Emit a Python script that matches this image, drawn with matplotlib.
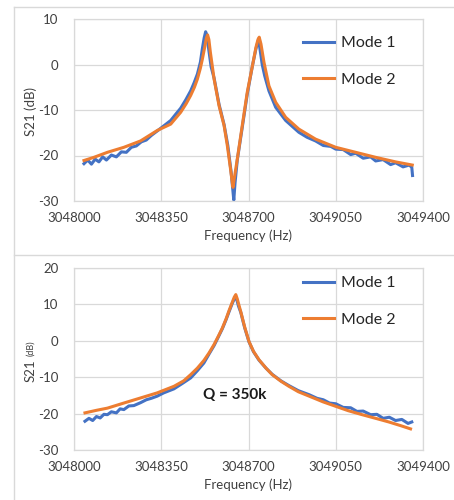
import matplotlib
matplotlib.use("Agg")
import matplotlib.pyplot as plt
from matplotlib.lines import Line2D

plt.rcParams['font.family'] = ['Lato', 'DejaVu Sans']
plt.rcParams['axes.unicode_minus'] = False

# ====== Data ======
# top panel (two split modes)
top_f1 = [3048040, 3048055, 3048070, 3048085, 3048100, 3048115, 3048130, 3048150, 3048170, 3048190,
          3048210, 3048230, 3048250, 3048270, 3048290, 3048310, 3048334, 3048360, 3048388, 3048410,
          3048428, 3048448, 3048468, 3048482, 3048495, 3048507, 3048515, 3048522, 3048528, 3048533,
          3048540, 3048550, 3048562, 3048582, 3048602, 3048617, 3048630, 3048637, 3048641, 3048646,
          3048655, 3048675, 3048695, 3048715, 3048730, 3048739, 3048745, 3048755, 3048765, 3048782,
          3048809, 3048849, 3048902, 3048935, 3048969, 3049000, 3049030, 3049050, 3049080, 3049110,
          3049130, 3049160, 3049190, 3049210, 3049240, 3049270, 3049290, 3049320, 3049345, 3049355,
          3049358]
top_s1 = [-21.8, -21.0, -21.9, -20.8, -21.4, -20.3, -21.0, -19.9, -20.3, -19.2,
          -19.3, -18.2, -17.9, -17.0, -16.6, -15.6, -14.6, -13.5, -12.3, -10.8,
          -9.6, -7.8, -5.8, -4.0, -2.1, 0.5, 3.5, 5.8, 7.2, 6.5,
          3.5, -0.5, -3.0, -8.8, -13.2, -17.8, -23.5, -27.5, -29.8, -26.0,
          -21.0, -13.8, -6.5, -0.5, 3.5, 5.2, 3.8, 0.0, -2.5, -5.8,
          -9.4, -12.3, -14.9, -16.0, -16.8, -17.8, -18.0, -18.6, -18.7, -19.8,
          -19.5, -20.6, -20.3, -21.2, -20.9, -22.0, -21.6, -22.5, -22.1, -22.6,
          -24.4]
top_f2 = [3048040, 3048080, 3048134, 3048200, 3048267, 3048334, 3048388, 3048428, 3048450, 3048468,
          3048483, 3048495, 3048507, 3048515, 3048525, 3048531, 3048536, 3048541, 3048547, 3048562,
          3048582, 3048602, 3048615, 3048628, 3048635, 3048638, 3048643, 3048655, 3048675, 3048695,
          3048715, 3048730, 3048738, 3048743, 3048750, 3048762, 3048782, 3048809, 3048849, 3048902,
          3048969, 3049050, 3049130, 3049210, 3049290, 3049357]
top_s2 = [-21.1, -20.4, -19.3, -18.2, -16.8, -14.5, -13.1, -10.5, -8.6, -6.8,
          -5.0, -3.2, -0.8, 1.2, 4.0, 5.8, 6.5, 5.5, 2.7, -3.2,
          -9.1, -13.4, -17.8, -23.0, -26.0, -27.0, -25.0, -20.8, -13.4, -6.1,
          -0.5, 3.8, 5.5, 6.0, 4.5, 0.5, -4.7, -8.3, -11.6, -14.2,
          -16.4, -18.2, -19.3, -20.4, -21.4, -22.1]

# bottom panel (single mode, Q = 350k)
bot_f1 = [3048044, 3048060, 3048075, 3048090, 3048105, 3048120, 3048134, 3048150, 3048170, 3048185,
          3048200, 3048220, 3048240, 3048267, 3048290, 3048310, 3048334, 3048360, 3048401, 3048435,
          3048468, 3048495, 3048521, 3048542, 3048562, 3048580, 3048595, 3048610, 3048622, 3048635,
          3048643, 3048648, 3048653, 3048660, 3048669, 3048685, 3048702, 3048720, 3048742, 3048770,
          3048795, 3048830, 3048862, 3048900, 3048943, 3048975, 3049000, 3049025, 3049050, 3049080,
          3049110, 3049135, 3049160, 3049190, 3049215, 3049240, 3049265, 3049290, 3049315, 3049340,
          3049355]
bot_s1 = [-22.1, -21.3, -21.9, -20.8, -21.2, -20.2, -20.3, -19.5, -19.8, -18.7,
          -18.9, -17.9, -17.8, -17.0, -16.2, -15.8, -15.2, -14.3, -13.2, -11.7,
          -10.2, -8.2, -6.1, -3.6, -1.3, 1.2, 3.3, 5.8, 8.0, 10.3,
          11.5, 12.1, 11.3, 9.5, 7.8, 3.5, -0.3, -3.0, -5.3, -7.5,
          -9.2, -11.0, -12.3, -13.7, -14.8, -15.8, -16.2, -17.1, -17.3, -18.3,
          -18.4, -19.4, -19.3, -20.3, -20.2, -21.3, -21.0, -21.9, -21.6, -22.7,
          -22.3]
bot_f2 = [3048044, 3048090, 3048134, 3048200, 3048267, 3048334, 3048401, 3048440, 3048468, 3048495,
          3048521, 3048542, 3048562, 3048580, 3048595, 3048610, 3048622, 3048635, 3048643, 3048649,
          3048655, 3048662, 3048669, 3048685, 3048702, 3048720, 3048742, 3048770, 3048795, 3048830,
          3048862, 3048900, 3048943, 3049000, 3049050, 3049100, 3049156, 3049210, 3049263, 3049310,
          3049350]
bot_s2 = [-19.8, -19.1, -18.5, -17.1, -15.7, -14.3, -12.5, -11.0, -9.3, -7.5,
          -5.4, -3.3, -1.0, 1.4, 3.5, 6.0, 8.3, 10.6, 12.0, 12.7,
          11.5, 9.7, 8.0, 3.7, -0.2, -2.9, -5.2, -7.5, -9.3, -11.1,
          -12.5, -14.0, -15.2, -16.8, -18.0, -19.2, -20.3, -21.3, -22.3, -23.3,
          -24.2]

xticks = [3048000, 3048350, 3048700, 3049050, 3049400]
top_yticks = [-30, -20, -10, 0, 10]
bot_yticks = [-30, -20, -10, 0, 10, 20]
labels = ["Mode 1", "Mode 2"]

blue = "#4472C4"
orange = "#ED7D31"
grid_c = "#d9d9d9"
text_c = "#404040"

W, H = 454, 500
fig = plt.figure(figsize=(W / 100, H / 100), dpi=100)

# chart frames (light grey, like the Excel chart borders)
for (x0, y0, x1, y1) in [(14, 7, 454, 7), (14, 7, 14, 500), (14, 255, 454, 255)]:
    fig.add_artist(Line2D([x0 / W, x1 / W], [1 - y0 / H, 1 - y1 / H], color=grid_c, lw=1))


def style(ax, yticks, leg_top):
    ax.set_xlim(xticks[0], xticks[-1])
    ax.set_ylim(yticks[0], yticks[-1])
    ax.set_xticks(xticks)
    ax.set_xticklabels([str(t) for t in xticks])
    ax.set_yticks(yticks)
    ax.grid(True, color=grid_c, lw=0.9)
    ax.set_axisbelow(True)
    for s in ax.spines.values():
        s.set_color(grid_c)
        s.set_linewidth(0.9)
    ax.tick_params(length=0, labelsize=9.5, colors=text_c, pad=11)
    ax.tick_params(axis='x', pad=8)
    ax.set_xlabel("Frequency (Hz)", fontsize=9.5, color=text_c, labelpad=4)
    leg = ax.legend(loc="upper left", bbox_to_anchor=(0.655, leg_top), frameon=False,
                    fontsize=11.5, handlelength=1.95, handletextpad=0.45,
                    labelspacing=1.4, borderpad=0, borderaxespad=0)
    for t in leg.get_texts():
        t.set_color("#262626")


ax1 = fig.add_axes([74 / W, 1 - 201 / H, 349 / W, 182 / H])
ax1.plot(top_f1, top_s1, color=blue, lw=2.2, label=labels[0])
ax1.plot(top_f2, top_s2, color=orange, lw=2.2, label=labels[1])
style(ax1, top_yticks, 0.905)
fig.text(31 / W, 1 - 111 / H, "S21 (dB)", rotation=90, ha="center", va="center",
         fontsize=9.5, color=text_c)

ax2 = fig.add_axes([74 / W, 1 - 450 / H, 349 / W, 182 / H])
ax2.plot(bot_f1, bot_s1, color=blue, lw=2.2, label=labels[0])
ax2.plot(bot_f2, bot_s2, color=orange, lw=2.2, label=labels[1])
style(ax2, bot_yticks, 0.955)
ax2.text(3048645, -15, "Q = 350k", ha="center", va="center", fontsize=11,
         fontweight="bold", color="#1a1a1a")
fig.text(31 / W, 1 - 371 / H, "S21", rotation=90, ha="center", va="center",
         fontsize=9.5, color=text_c)
fig.text(31 / W, 1 - 348 / H, "(dB)", rotation=90, ha="center", va="center",
         fontsize=6.5, color=text_c)

fig.savefig("out.png", dpi=100, facecolor="white")
